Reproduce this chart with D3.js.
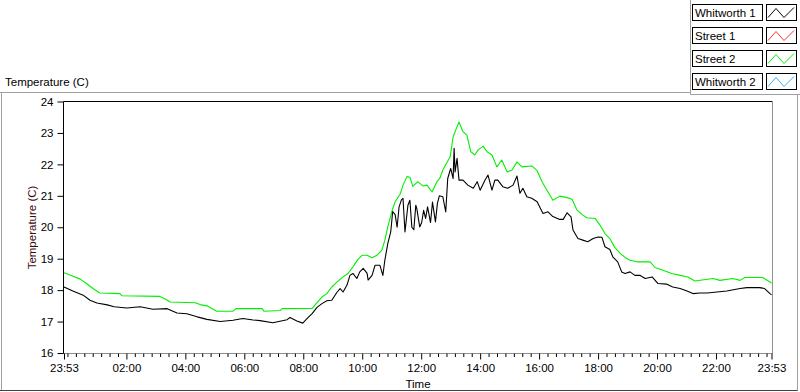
<!DOCTYPE html>
<html>
<head>
<meta charset="utf-8">
<script src="https://cdn.jsdelivr.net/npm/d3@7"></script>
<style>
body { margin: 0; background: #fff; }
svg { display: block; font-family: "Liberation Sans", Arial, sans-serif; }
</style>
</head>
<body>
<svg id="chart" width="800" height="392"></svg>
<script>
// legend order, as in the plot legend
var seriesNames = ["Whitworth 1", "Street 1", "Street 2", "Whitworth 2"];
var seriesColors = ["#000000", "#ff3030", "#00f000", "#30b0ff"];

// Whitworth 1 (clock time, temperature C) - first entry is the day before
var whitworth1Time = ["23:53","00:11","00:32","00:46","01:00","01:21","01:35","02:01","02:28","02:54",
    "03:23","03:43","04:03","04:24","04:44","05:11","05:37","05:57","06:18","06:32",
    "06:58","07:27","07:33","07:47","07:59","08:10","08:18","08:28","08:38","08:48",
    "08:58","09:09","09:15","09:21","09:29","09:35","09:41","09:49","09:55","10:02",
    "10:10","10:12","10:20","10:26","10:36","10:42","10:46","10:52","10:58","11:02",
    "11:07","11:11","11:15","11:20","11:23","11:27","11:33","11:37","11:41","11:45",
    "11:49","11:51","11:57","12:01","12:05","12:09","12:13","12:19","12:23","12:29",
    "12:33","12:37","12:44","12:50","12:54","13:00","13:05","13:07","13:09","13:13",
    "13:17","13:25","13:35","13:46","13:54","14:00","14:10","14:16","14:24","14:30",
    "14:36","14:46","14:56","15:07","15:15","15:21","15:27","15:35","15:45","15:56",
    "16:02","16:08","16:18","16:28","16:42","16:49","16:57","17:05","17:09","17:19",
    "17:29","17:39","17:50","18:00","18:08","18:14","18:24","18:30","18:40","18:48",
    "18:55","19:05","19:15","19:25","19:36","19:50","20:02","20:20","20:32","20:47",
    "21:01","21:13","21:27","21:42","22:02","22:22","22:49","23:03","23:29","23:39",
    "23:50","23:53"];
var whitworth1Temp = [18.10,17.97,17.84,17.68,17.59,17.53,17.47,17.43,17.47,17.39,
    17.41,17.27,17.25,17.15,17.07,17.00,17.04,17.10,17.05,17.03,
    16.96,17.06,17.13,17.02,16.95,17.13,17.25,17.45,17.57,17.66,
    17.68,17.94,18.05,17.94,18.16,18.47,18.53,18.37,18.58,18.69,
    18.53,18.32,18.47,18.79,18.79,18.47,18.95,19.48,19.85,20.50,
    20.40,20.00,20.65,20.88,20.92,19.85,20.70,20.86,20.00,19.92,
    20.70,20.60,20.01,20.15,20.54,20.28,20.65,20.15,20.80,20.17,
    20.76,21.00,20.97,20.49,21.55,21.87,21.55,22.51,21.76,22.19,
    21.50,21.50,21.34,21.24,21.45,21.18,21.50,21.66,21.18,21.50,
    21.50,21.29,21.24,21.34,21.63,21.08,21.24,20.97,20.92,20.81,
    20.62,20.44,20.49,20.34,20.25,20.25,20.46,20.33,19.91,19.64,
    19.59,19.54,19.64,19.69,19.68,19.38,19.29,19.06,18.90,18.58,
    18.53,18.58,18.47,18.47,18.37,18.42,18.21,18.19,18.10,18.05,
    17.97,17.89,17.91,17.91,17.94,17.97,18.05,18.08,18.08,18.05,
    17.89,17.85];

// Street 2
var street2Time = ["23:53","00:05","00:26","00:38","00:52","01:06","01:47","01:51","03:08","03:19",
    "03:29","04:20","04:30","04:44","04:56","05:04","05:37","05:43","06:36","06:40",
    "07:13","07:17","08:18","08:28","08:38","08:48","08:58","09:09","09:21","09:31",
    "09:41","09:51","10:00","10:10","10:20","10:30","10:40","10:46","10:52","11:01",
    "11:07","11:17","11:23","11:31","11:37","11:43","11:53","12:04","12:12","12:22",
    "12:32","12:38","12:44","12:59","13:05","13:13","13:17","13:25","13:33","13:41",
    "13:49","13:56","14:06","14:14","14:24","14:34","14:44","14:55","15:05","15:15",
    "15:25","15:45","15:56","16:06","16:16","16:28","16:42","16:55","17:07","17:17",
    "17:27","17:37","17:54","18:04","18:14","18:24","18:34","18:45","18:55","19:05",
    "19:19","19:46","19:56","20:12","20:30","20:47","21:03","21:17","21:54","22:08",
    "22:34","22:49","22:59","23:35","23:50","23:53"];
var street2Temp = [18.55,18.48,18.35,18.22,18.05,17.91,17.89,17.82,17.80,17.72,
    17.62,17.60,17.54,17.50,17.40,17.33,17.33,17.41,17.41,17.33,
    17.35,17.41,17.42,17.60,17.78,17.89,18.10,18.26,18.42,18.53,
    18.74,18.97,19.11,19.11,19.03,19.11,19.27,19.59,20.01,20.54,
    20.81,21.05,21.34,21.61,21.59,21.30,21.45,21.31,21.34,21.12,
    21.45,21.56,21.82,22.24,22.88,23.20,23.35,23.04,22.93,22.40,
    22.30,22.46,22.58,22.40,22.30,21.92,22.14,21.76,21.82,22.08,
    21.92,21.95,21.80,21.45,21.18,20.86,20.99,20.95,20.89,20.55,
    20.41,20.30,20.28,20.07,19.80,19.64,19.36,19.17,19.04,18.95,
    18.90,18.90,18.72,18.63,18.53,18.47,18.42,18.29,18.37,18.31,
    18.37,18.31,18.40,18.40,18.26,18.22];

// Street 1 and Whitworth 2 show no trace in the plot
var street1Time = [], street1Temp = [];
var whitworth2Time = [], whitworth2Temp = [];

var yTicks = [16, 17, 18, 19, 20, 21, 22, 23, 24];
var xTickLabels = ["23:53","02:00","04:00","06:00","08:00","10:00","12:00","14:00","16:00","18:00","20:00","22:00","23:53"];

// first "23:53" belongs to the previous day, all other times to the next
function toDate(s, i) {
    var p = s.split(":");
    var h = +p[0], m = +p[1];
    var day = (i === 0 && h * 60 + m >= 23 * 60 + 53) ? 1 : 2;
    return new Date(2000, 0, day, h, m);
}

function makeSeries(times, temps) {
    return times.map(function (t, i) { return {t: toDate(t, i), v: temps[i]}; });
}

var series = [
    makeSeries(whitworth1Time, whitworth1Temp),
    makeSeries(street1Time, street1Temp),
    makeSeries(street2Time, street2Temp),
    makeSeries(whitworth2Time, whitworth2Temp)
];

var majorDates = xTickLabels.map(toDate);
var start = majorDates[0], end = majorDates[majorDates.length - 1];

// plot box (note: "top" is taken by window.top, so prefixed names)
var plotLeft = 63.5, plotRight = 772.5, plotTop = 101.5, plotBottom = 353.5;

var x = d3.scaleTime().domain([start, end]).range([64, 771.5]);
var y = d3.scaleLinear().domain([16, 24]).range([353, 101.5]);

var svg = d3.select("#chart");
var fontSize = "11.5px";

// outer panel frame
svg.append("line").attr("x1", 0).attr("x2", 690).attr("y1", 92.5).attr("y2", 92.5).attr("stroke", "#a0a0a0");
svg.append("line").attr("x1", 1.5).attr("x2", 1.5).attr("y1", 92.5).attr("y2", 390).attr("stroke", "#a0a0a0");
svg.append("line").attr("x1", 0).attr("x2", 798).attr("y1", 390.5).attr("y2", 390.5).attr("stroke", "#404040");
svg.append("line").attr("x1", 797.5).attr("x2", 797.5).attr("y1", 94.5).attr("y2", 390.5).attr("stroke", "#a0a0a0");
// legend panel frame
svg.append("line").attr("x1", 690.5).attr("x2", 690.5).attr("y1", 0).attr("y2", 94.5).attr("stroke", "#a0a0a0");
svg.append("line").attr("x1", 690.5).attr("x2", 800).attr("y1", 94.5).attr("y2", 94.5).attr("stroke", "#a0a0a0");

svg.append("text")
    .attr("x", 5).attr("y", 86)
    .style("font-size", fontSize)
    .text("Temperature (C)");

// plot frame
svg.append("line").attr("x1", plotLeft).attr("x2", plotRight).attr("y1", plotTop).attr("y2", plotTop).attr("stroke", "#000");
svg.append("line").attr("x1", plotRight).attr("x2", plotRight).attr("y1", plotTop).attr("y2", plotBottom).attr("stroke", "#909090");
svg.append("line").attr("x1", plotLeft).attr("x2", plotRight).attr("y1", plotBottom).attr("y2", plotBottom).attr("stroke", "#909090");

// y axis
var yAxis = d3.axisLeft(y).tickValues(yTicks).tickSize(6).tickPadding(4).tickFormat(d3.format("d"));
var gy = svg.append("g").attr("transform", "translate(" + plotLeft + ",0)").call(yAxis);
gy.select(".domain").attr("d", "M0," + plotTop + "V" + plotBottom).attr("stroke", "#000");
gy.selectAll("text").style("font-size", fontSize).attr("fill", "#000");

// x axis: major ticks with labels, minor ticks every 120/7 minutes from midnight
var midnight = new Date(2000, 0, 2, 0, 0);
var minorDates = d3.range(0, 84).filter(function (i) { return i === 0 || i % 7 !== 0; })
    .map(function (i) { return new Date(+midnight + i * 120 / 7 * 60000); });

var xMinor = d3.axisBottom(x).tickValues(minorDates).tickSize(3.5).tickFormat("");
var gxm = svg.append("g").attr("transform", "translate(0," + plotBottom + ")").call(xMinor);
gxm.select(".domain").remove();

var xAxis = d3.axisBottom(x).tickValues(majorDates).tickSize(6).tickPadding(4)
    .tickFormat(function (d, i) { return xTickLabels[i]; });
var gx = svg.append("g").attr("transform", "translate(0," + plotBottom + ")").call(xAxis);
gx.select(".domain").remove();
gx.selectAll("text").style("font-size", fontSize).attr("fill", "#000");

// axis titles
svg.append("text")
    .attr("x", (plotLeft + plotRight) / 2).attr("y", 388)
    .attr("text-anchor", "middle")
    .style("font-size", fontSize)
    .text("Time");

svg.append("text")
    .attr("transform", "translate(36," + (plotTop + plotBottom) / 2 + ") rotate(-90)")
    .attr("text-anchor", "middle")
    .style("font-size", fontSize)
    .attr("fill", "#3c0a0a")
    .text("Temperature (C)");

// data lines
var line = d3.line()
    .x(function (d) { return x(d.t); })
    .y(function (d) { return y(d.v); });

[2, 0, 1, 3].forEach(function (k) {
    if (!series[k].length) return;
    svg.append("path")
        .attr("d", line(series[k]))
        .attr("fill", "none")
        .attr("stroke", seriesColors[k])
        .attr("stroke-width", 1.1)
        .attr("stroke-linejoin", "round");
});

// legend
var leg = svg.append("g");
seriesNames.forEach(function (name, i) {
    var ty = 4.5 + i * 23;
    leg.append("rect").attr("x", 692.5).attr("y", ty).attr("width", 70).attr("height", 16)
        .attr("fill", "#fff").attr("stroke", "#000");
    leg.append("text").attr("x", 695).attr("y", ty + 12)
        .style("font-size", fontSize).text(name);
    leg.append("rect").attr("x", 766.5).attr("y", ty).attr("width", 30).attr("height", 16)
        .attr("fill", "#fff").attr("stroke", "#000");
    leg.append("path")
        .attr("d", "M" + 768 + "," + (ty + 13) + "L" + 776 + "," + (ty + 4) + "L" + 784 + "," + (ty + 13) + "L" + 794 + "," + (ty + 3))
        .attr("fill", "none").attr("stroke", seriesColors[i]);
});
</script>
</body>
</html>
